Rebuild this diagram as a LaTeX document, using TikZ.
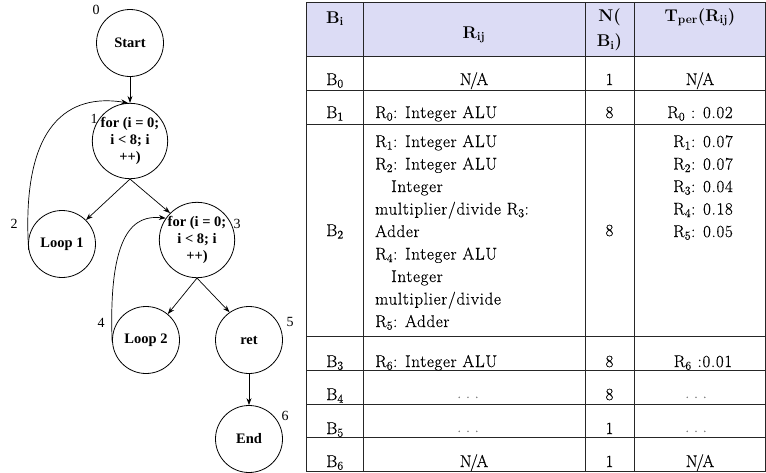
\documentclass[tikz,border=0pt]{standalone}
\usepackage{fontspec}
\newfontfamily\tnr{Liberation Serif}
\newfontfamily\cellfont[LetterSpace=4,FakeBold=0.4]{Latin Modern Roman}
\usetikzlibrary{arrows.meta}
\definecolor{headfill}{RGB}{220,220,245}
\newcommand{\na}{N\kern-1.5pt/\kern-1.5ptA}
\newcommand{\spreaddots}{.\hspace{4.5pt}.\hspace{4.5pt}.}
\begin{document}
\begin{tikzpicture}[x=1pt,y=-1pt,
  blk/.style={circle,draw,line width=0.8pt,minimum size=67pt,inner sep=0pt,align=center,
    font=\tnr\bfseries\fontsize{14.5}{17}\selectfont},
  num/.style={inner sep=0pt,font=\tnr\fontsize{14}{16}\selectfont},
  flow/.style={line width=0.7pt,-{Stealth[length=7pt,width=5pt]}},
  cell/.style={anchor=base,inner sep=0pt,font=\cellfont\fontsize{17}{22.5}\selectfont},
  cellL/.style={cell,anchor=base west},
  head/.style={anchor=base,inner sep=0pt,font=\bfseries\fontsize{17}{22.5}\selectfont},
  dots/.style={cell,text=black!50},
  rule/.style={line width=0.9pt,black!85}
]
\useasboundingbox (0,0) rectangle (766,472);

% ---------- control-flow graph ----------
\node[blk] (s)   at (130,43)  {Start};
\node[blk] (n1)  at (130,141) {for (i = 0;\\ i < 8; i\\ ++)};
\node[blk] (l1)  at (62,244)  {Loop 1};
\node[blk] (n3)  at (197,240) {for (i = 0;\\ i < 8; i\\ ++)};
\node[blk] (l2)  at (146,340) {Loop 2};
\node[blk] (ret) at (249,340) {ret};
\node[blk] (fin) at (249,439) {End};

\node[num] (k0) at (96,10)   {0};
\node[num] (k1) at (94,119)  {1};
\node[num] (k2) at (14,224)  {2};
\node[num] (k3) at (237,224) {3};
\node[num] (k4) at (101,323) {4};
\node[num] (k5) at (290,322) {5};
\node[num] (k6) at (285,416) {6};

\draw[flow] (s.south) -- (n1.north);
\draw[flow] (n1.south) -- (l1.45);
\draw[flow] (n1.south) -- (n3.135);
\draw[flow] (n3.south) -- (l2.50);
\draw[flow] (n3.south) -- (ret.125);
\draw[flow] (ret.south) -- (fin.north);
\draw[flow] (l1.190) .. controls (20,110) and (80,95) .. (n1.93);
\draw[flow] (l2.183) .. controls (108,230) and (135,215) .. (n3.145);

% ---------- table ----------
\fill[headfill] (306.5,2.5) rectangle (765.5,56);
\draw[rule] (306.5,2.5) rectangle (765.5,471);
\foreach \yy in {56,90,124,336,370,404,437}
  \draw[rule] (306.5,\yy) -- (765.5,\yy);
\foreach \xx in {363,585,634}
  \draw[rule] (\xx,2.5) -- (\xx,471);

% header
\node[head] (hb) at (335,23) {B\textsubscript{i}};
\node[head] (hr) at (474,38) {R\textsubscript{ij}};
\node[head] (hn) at (609.5,21) {\begin{tabular}[t]{@{}c@{}}N(\\[3pt] B\textsubscript{i})\end{tabular}};
\node[head] (ht) at (700,21) {T\textsubscript{per}(R\textsubscript{ij})};

% first column
\node[cell] (b0) at (335,85)  {B\textsubscript{0}};
\node[cell] (b1) at (335,118) {B\textsubscript{1}};
\node[cell] (b2) at (335,236) {B\textsubscript{2}};
\node[cell] (b3) at (335,367) {B\textsubscript{3}};
\node[cell] (b4) at (335,400) {B\textsubscript{4}};
\node[cell] (b5) at (335,434) {B\textsubscript{5}};
\node[cell] (b6) at (335,467) {B\textsubscript{6}};

% resources
\node[cell]  (r0) at (474,85)  {\na};
\node[cellL] (r1) at (375,118) {R\textsubscript{0}: Integer ALU};
\node[cellL] (r2) at (375,147) {\begin{tabular}[t]{@{}l@{}}
  R\textsubscript{1}: Integer ALU\\
  R\textsubscript{2}: Integer ALU\\
  \hspace*{16pt}Integer\\
  multiplier/divide R\textsubscript{3}:\\
  Adder\\
  R\textsubscript{4}: Integer ALU\\
  \hspace*{16pt}Integer\\
  multiplier/divide\\
  R\textsubscript{5}: Adder\end{tabular}};
\node[cellL] (r3) at (375,367) {R\textsubscript{6}: Integer ALU};
\node[dots]  (r4) at (468,398) {\spreaddots};
\node[dots]  (r5) at (468,432) {\spreaddots};
\node[cell]  (r6) at (474,467) {\na};

% block counts
\node[cell] (c0) at (609.5,85)  {1};
\node[cell] (c1) at (609.5,118) {8};
\node[cell] (c2) at (609.5,236) {8};
\node[cell] (c3) at (609.5,367) {8};
\node[cell] (c4) at (609.5,400) {8};
\node[cell] (c5) at (609.5,434) {1};
\node[cell] (c6) at (609.5,467) {1};

% periods
\node[cell]  (t0) at (700,85)  {\na};
\node[cell]  (t1) at (700,118) {R\textsubscript{0} : 0.02};
\node[cellL] (t2) at (673,147) {\begin{tabular}[t]{@{}l@{}}
  R\textsubscript{1}: 0.07\\
  R\textsubscript{2}: 0.07\\
  R\textsubscript{3}: 0.04\\
  R\textsubscript{4}: 0.18\\
  R\textsubscript{5}: 0.05\end{tabular}};
\node[cell]  (t3) at (703,367) {R\textsubscript{6} :0.01};
\node[dots]  (t4) at (696,398) {\spreaddots};
\node[dots]  (t5) at (696,432) {\spreaddots};
\node[cell]  (t6) at (700,467) {\na};
\end{tikzpicture}
\end{document}
